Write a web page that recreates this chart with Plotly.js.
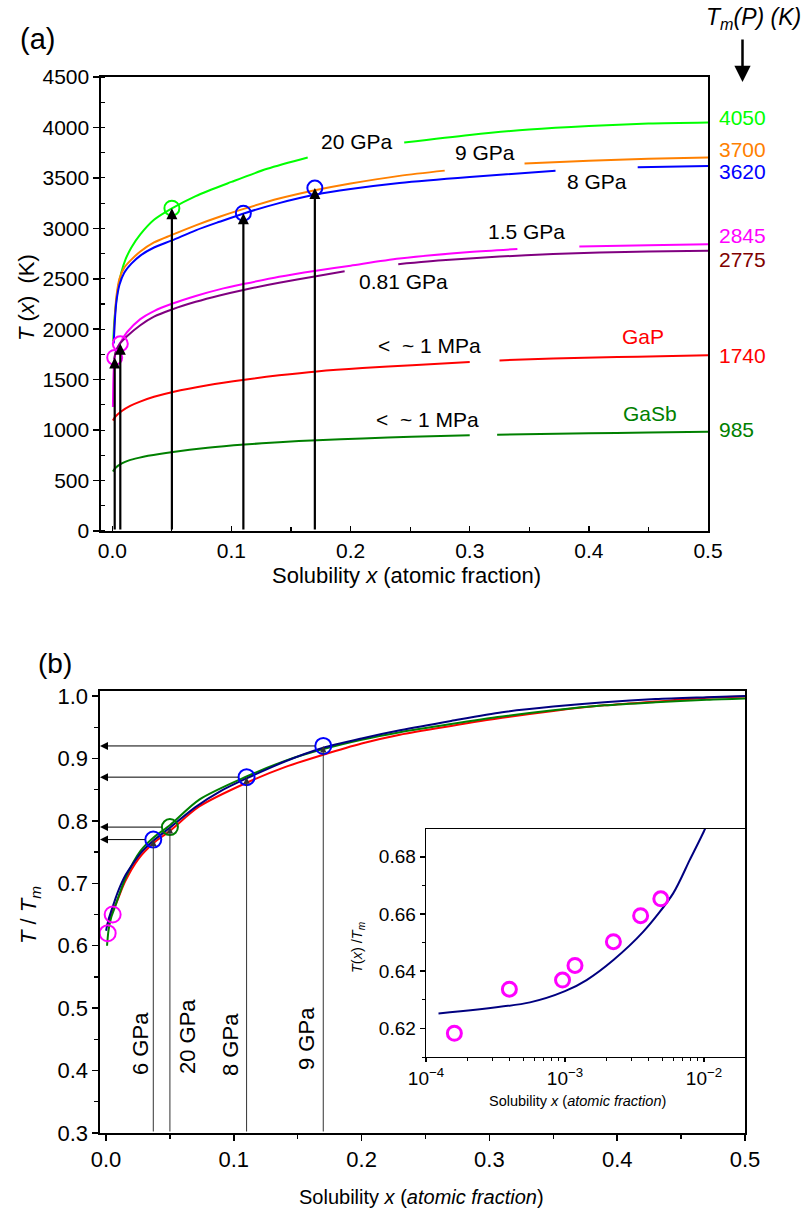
<!DOCTYPE html>
<html><head><meta charset="utf-8">
<script src="https://cdn.plot.ly/plotly-3.0.1.min.js"></script>
<style>html,body{margin:0;padding:0;background:#fff}#chart{width:806px;height:1214px}</style>
</head><body><div id="chart"></div>
<script>
// ================= DATA =================
// Panel (a): T(x) in K vs solubility x (null = break in the drawn line)
const x20GPa = [0.0008, 0.0015, 0.003, 0.005, 0.0075, 0.011, 0.016, 0.0235, 0.035, 0.05, 0.07, 0.1, 0.13, 0.164, null, 0.245, 0.3, 0.35, 0.4, 0.45, 0.5];
const T20GPa = [1880, 2050, 2250, 2420, 2560, 2690, 2810, 2940, 3085, 3198, 3320, 3460, 3590, 3702, null, 3850, 3925, 3980, 4015, 4038, 4048];
const x9GPa = [0.0012, 0.002, 0.0035, 0.006, 0.01, 0.016, 0.0235, 0.035, 0.05, 0.07, 0.09, 0.111, 0.14, 0.171, 0.2, 0.241, 0.279, null, 0.346, 0.4, 0.45, 0.5];
const T9GPa = [1880, 2100, 2330, 2500, 2610, 2690, 2770, 2860, 2935, 3030, 3115, 3195, 3295, 3380, 3445, 3520, 3572, null, 3643, 3670, 3690, 3702];
const x8GPa = [0.0012, 0.002, 0.0035, 0.006, 0.01, 0.016, 0.0235, 0.035, 0.05, 0.07, 0.09, 0.111, 0.14, 0.171, 0.2, 0.241, 0.3, 0.372, null, 0.441, 0.5];
const T8GPa = [1860, 2060, 2280, 2440, 2560, 2650, 2730, 2810, 2880, 2980, 3065, 3150, 3250, 3335, 3390, 3450, 3510, 3570, null, 3605, 3618];
const x15GPa = [0.0005, 0.0008, 0.0012, 0.002, 0.004, 0.0067, 0.0123, 0.0235, 0.035, 0.05, 0.07, 0.09, 0.111, 0.14, 0.171, 0.2, 0.241, 0.3, 0.34, null, 0.392, 0.45, 0.5];
const T15GPa = [1230, 1450, 1600, 1720, 1810, 1865, 1970, 2100, 2180, 2252, 2330, 2395, 2450, 2520, 2580, 2630, 2700, 2765, 2795, null, 2820, 2833, 2842];
const x081GPa = [0.0015, 0.003, 0.006, 0.0123, 0.0235, 0.035, 0.05, 0.07, 0.09, 0.111, 0.14, 0.171, 0.195, null, 0.24, 0.28, 0.325, 0.37, 0.409, 0.45, 0.5];
const T081GPa = [1700, 1780, 1850, 1930, 2040, 2125, 2196, 2272, 2335, 2392, 2460, 2525, 2575, null, 2645, 2685, 2720, 2745, 2760, 2770, 2777];
const xGaP = [0.0005, 0.003, 0.008, 0.015, 0.0228, 0.035, 0.0508, 0.08, 0.111, 0.14, 0.1717, 0.21, 0.2516, 0.3, null, 0.325, 0.37, 0.424, 0.46, 0.5];
const TGaP = [1095, 1140, 1190, 1240, 1280, 1330, 1378, 1445, 1500, 1543, 1582, 1615, 1642, 1675, null, 1691, 1710, 1724, 1733, 1741];
const xGaSb = [0.0005, 0.003, 0.008, 0.014, 0.022, 0.03, 0.051, 0.08, 0.111, 0.14, 0.172, 0.21, 0.251, 0.3, null, 0.323, 0.4, 0.45, 0.5];
const TGaSb = [590, 630, 670, 700, 725, 745, 784, 825, 857, 880, 900, 918, 933, 948, null, 954, 968, 976, 983];
// circles in panel (a)
const circA_x = [0.002, 0.0067, 0.05, 0.11, 0.17];
const circA_T = [1720, 1856, 3200, 3150, 3400];
// melting temperatures at right of panel (a)
const tmValues = [4050, 3700, 3620, 2845, 2775, 1740, 985];
const tmLabels = ['4050', '3700', '3620', '2845', '2775', '1740', '985'];
// pressure labels in panel (a)
const pressureLabels = ['20 GPa', '9 GPa', '8 GPa', '1.5 GPa', '0.81 GPa', '&lt;&nbsp; ~ 1 MPa', 'GaP', '&lt;&nbsp; ~ 1 MPa', 'GaSb'];

// Panel (b): T/Tm vs x
const xNavy = [0.0001, 0.0005, 0.001, 0.002, 0.004, 0.006, 0.008, 0.01, 0.015, 0.02, 0.027, 0.037, 0.05, 0.07, 0.09, 0.11, 0.14, 0.17, 0.2, 0.23, 0.27, 0.31, 0.35, 0.39, 0.43, 0.47, 0.5];
const yNavy = [0.624, 0.629, 0.633, 0.642, 0.655, 0.667, 0.679, 0.69, 0.712, 0.728, 0.748, 0.768, 0.789, 0.822, 0.848, 0.868, 0.895, 0.917, 0.932, 0.945, 0.96, 0.974, 0.983, 0.990, 0.995, 0.998, 1.0];
const xGreenB = [0.0008, 0.002, 0.004, 0.007, 0.01, 0.016, 0.027, 0.037, 0.05, 0.073, 0.11, 0.14, 0.17, 0.2, 0.23, 0.27, 0.31, 0.35, 0.39, 0.43, 0.47, 0.5];
const yGreenB = [0.60, 0.625, 0.645, 0.662, 0.68, 0.712, 0.752, 0.773, 0.793, 0.834, 0.871, 0.896, 0.915, 0.930, 0.942, 0.955, 0.967, 0.977, 0.985, 0.990, 0.994, 0.996];
const xRedB = [0.0005, 0.003, 0.008, 0.015, 0.025, 0.037, 0.05, 0.073, 0.11, 0.14, 0.17, 0.2, 0.23, 0.27, 0.31, 0.35, 0.39, 0.43, 0.47, 0.5];
const yRedB = [0.63, 0.645, 0.668, 0.703, 0.738, 0.764, 0.784, 0.823, 0.861, 0.886, 0.906, 0.924, 0.938, 0.952, 0.965, 0.976, 0.985, 0.991, 0.997, 0.999];
const circB_x = [0.0013, 0.0052, 0.037, 0.05, 0.11, 0.17];
const circB_y = [0.62, 0.65, 0.77, 0.79, 0.87, 0.92];
const pressureB = ['6 GPa', '20 GPa', '8 GPa', '9 GPa'];

// Inset
const xInsetLine = [1.23e-4, 5.6e-4, 1e-3, 1.43e-3, 2.23e-3, 3.66e-3, 6e-3, 7.9e-3, 1.016e-2, 1.1e-2];
const yInsetLine = [0.6252, 0.6291, 0.6330, 0.6369, 0.6439, 0.6538, 0.6672, 0.6789, 0.6897, 0.694];
const xInsetPts = [1.6e-4, 3.98e-4, 9.6e-4, 1.18e-3, 2.23e-3, 3.5e-3, 4.89e-3];
const yInsetPts = [0.6183, 0.6337, 0.6369, 0.6420, 0.6503, 0.6594, 0.6653];
const insetTickVals = [1e-4, 1e-3, 1e-2];
const insetTickText = ['10<sup>\u22124</sup>', '10<sup>\u22123</sup>', '10<sup>\u22122</sup>'];

// ================= LAYOUT HELPERS =================
const W = 806, H = 1214;
const PX = v => v / W, PY = v => 1 - v / H;
const FONT = 'Liberation Sans, Arial, Helvetica, sans-serif';

function curve(x, y, color, xa, ya, width) {
  return {x, y, type: 'scatter', mode: 'lines', connectgaps: false, xaxis: xa, yaxis: ya,
    line: {color, width: width || 2, shape: 'spline', smoothing: 0.8}, hoverinfo: 'skip', showlegend: false};
}
function circles(x, y, colors, xa, ya, size, lw) {
  return {x, y, type: 'scatter', mode: 'markers', xaxis: xa, yaxis: ya, showlegend: false, hoverinfo: 'skip',
    marker: {symbol: 'circle-open', size, color: colors, line: {width: lw, color: colors}}};
}

const traces = [
  curve(x20GPa, T20GPa, '#00ff00', 'x', 'y'),
  curve(x9GPa, T9GPa, '#ff8000', 'x', 'y'),
  curve(x8GPa, T8GPa, '#0000ff', 'x', 'y'),
  curve(x15GPa, T15GPa, '#ff00ff', 'x', 'y'),
  curve(x081GPa, T081GPa, '#800080', 'x', 'y'),
  curve(xGaP, TGaP, '#ff0000', 'x', 'y'),
  curve(xGaSb, TGaSb, '#008000', 'x', 'y'),
  circles(circA_x, circA_T, ['#ff00ff', '#ff00ff', '#00ff00', '#0000ff', '#0000ff'], 'x', 'y', 15, 2),
  curve(xRedB, yRedB, '#ff0000', 'x2', 'y2'),
  curve(xGreenB, yGreenB, '#008000', 'x2', 'y2'),
  curve(xNavy, yNavy, '#000080', 'x2', 'y2'),
  circles(circB_x, circB_y, ['#ff00ff', '#ff00ff', '#0000ff', '#008000', '#0000ff', '#0000ff'], 'x2', 'y2', 16, 2),
  curve(xInsetLine, yInsetLine, '#000080', 'x3', 'y3'),
  circles(xInsetPts, yInsetPts, '#ff00ff', 'x3', 'y3', 14, 3)
];

const annotations = [];
function txt(xp, yp, text, size, opts) {
  annotations.push(Object.assign({x: PX(xp), y: PY(yp), xref: 'paper', yref: 'paper', text, showarrow: false,
    font: {size, family: FONT, color: '#000'}, xanchor: 'center', yanchor: 'middle'}, opts || {}));
}

// Panel labels / axis titles
txt(37, 39, '(a)', 29);
txt(55, 663, '(b)', 28);
txt(753, 19, '<i>T</i><sub><i>m</i></sub><i>(P) (K)</i>', 23);
annotations.push({x: PX(742.5), y: PY(82), xref: 'paper', yref: 'paper', text: '', showarrow: true,
  ax: 0, ay: -44, arrowhead: 2, arrowsize: 1.3, arrowwidth: 2.5, arrowcolor: '#000'});
txt(406, 575, 'Solubility <i>x</i> (atomic fraction)', 22);
txt(26, 298, '<i>T</i>&nbsp;(<i>x</i>)&nbsp;&nbsp;(K)', 22, {textangle: -90});
txt(421, 1197, 'Solubility <i>x</i> (<i>atomic fraction</i>)', 20);
txt(30, 915, '<i>T</i> / <i>T</i><sub><i>m</i></sub>', 22, {textangle: -90});
txt(577, 1101, 'Solubility <i>x</i> (<i>atomic fraction</i>)', 14.5);
txt(358, 948, '<i>T</i>(<i>x</i>) /<i>T</i><sub><i>m</i></sub>', 14.5, {textangle: -90});

// Pressure labels on panel (a) (data coordinates)
const pLabelPos = [[0.205, 3859], [0.313, 3750], [0.4066, 3469], [0.3476, 2967], [0.2446, 2471], [0.266, 1834], [0.4456, 1926], [0.2647, 1107], [0.4514, 1167]];
const pLabelCol = ['#000', '#000', '#000', '#000', '#000', '#000', '#ff0000', '#000', '#008000'];
pressureLabels.forEach((t, i) => annotations.push({x: pLabelPos[i][0], y: pLabelPos[i][1], xref: 'x', yref: 'y', text: t,
  showarrow: false, font: {size: 21, family: FONT, color: pLabelCol[i]}}));

// Tm labels at the right
const tmColors = ['#00ff00', '#ff8000', '#0000ff', '#ff00ff', '#800000', '#ff0000', '#008000'];
const tmShift = [5, 8, -6, 8, -8, 0, 2];
tmValues.forEach((v, i) => annotations.push({x: PX(717), xref: 'paper', y: v, yref: 'y', yshift: tmShift[i],
  text: tmLabels[i], showarrow: false, xanchor: 'left', yanchor: 'middle', font: {size: 21, family: FONT, color: tmColors[i]}}));

// Thick black arrows in panel (a)
circA_x.forEach((xv, i) => annotations.push({x: xv, y: circA_T[i], xref: 'x', yref: 'y', ax: xv, ay: 0, axref: 'x', ayref: 'y',
  text: '', showarrow: true, arrowhead: 2, arrowsize: 1, arrowwidth: 2.2, arrowcolor: '#000'}));

// Arrows in panel (b)
for (let i = 2; i < circB_x.length; i++) {
  annotations.push({x: circB_x[i], y: circB_y[i], xref: 'x2', yref: 'y2', ax: circB_x[i], ay: 0.3, axref: 'x2', ayref: 'y2',
    text: '', showarrow: true, arrowhead: 2, arrowsize: 1.3, arrowwidth: 1, arrowcolor: '#333'});
  annotations.push({x: -0.0047, y: circB_y[i], xref: 'x2', yref: 'y2', ax: circB_x[i], ay: circB_y[i], axref: 'x2', ayref: 'y2',
    text: '', showarrow: true, arrowhead: 2, arrowsize: 1.6, arrowwidth: 1, arrowcolor: '#000', startstandoff: 7});
}
const pBpos = [[140, 1044], [187, 1037], [230, 1044], [306, 1039]];
pressureB.forEach((t, i) => txt(pBpos[i][0], pBpos[i][1], t, 22, {textangle: -90}));

// Axes
const axBase = {showline: true, linecolor: '#000', linewidth: 1.6, mirror: true, showgrid: false, zeroline: false,
  ticks: 'outside', tickcolor: '#000', tickwidth: 1.5, ticklen: 6, tickfont: {size: 21, family: FONT, color: '#000'}};
const minorTicks = [];
for (let d = -4; d <= -2; d++) for (let k = 2; k <= 9; k++) minorTicks.push(k * Math.pow(10, d));

const layout = {
  width: W, height: H, margin: {l: 0, r: 0, t: 0, b: 0}, paper_bgcolor: '#fff', plot_bgcolor: 'rgba(0,0,0,0)',
  font: {family: FONT, color: '#000'}, showlegend: false,
  xaxis: Object.assign({}, axBase, {domain: [PX(101), PX(708)], range: [-0.0095, 0.5], anchor: 'y', dtick: 0.1, tick0: 0, tickformat: '.1f',
    ticks: 'inside', ticklen: 5,
    minor: {ticks: 'inside', dtick: 0.05, tick0: 0, ticklen: 4, tickwidth: 1.2, tickcolor: '#000'}}),
  yaxis: Object.assign({}, axBase, {domain: [PY(531), PY(77)], range: [0, 4500], anchor: 'x', dtick: 500, tick0: 0,
    minor: {ticks: 'inside', dtick: 250, tick0: 0, ticklen: 4, tickwidth: 1.2, tickcolor: '#000'}}),
  xaxis2: Object.assign({}, axBase, {domain: [PX(100), PX(745)], range: [-0.0047, 0.5], anchor: 'y2', dtick: 0.1, tick0: 0, tickformat: '.1f',
    tickfont: {size: 22, family: FONT, color: '#000'},
    minor: {ticks: 'outside', dtick: 0.05, tick0: 0, ticklen: 4, tickwidth: 1.2, tickcolor: '#000'}}),
  yaxis2: Object.assign({}, axBase, {domain: [PY(1133), PY(691)], range: [0.3, 1.008], anchor: 'x2', dtick: 0.1, tick0: 0, tickformat: '.1f',
    tickfont: {size: 22, family: FONT, color: '#000'},
    minor: {ticks: 'outside', dtick: 0.05, tick0: 0, ticklen: 4, tickwidth: 1.2, tickcolor: '#000'}}),
  xaxis3: Object.assign({}, axBase, {domain: [PX(426), PX(745)], type: 'log', range: [-4, -1.705], anchor: 'y3',
    tickmode: 'array', tickvals: insetTickVals, ticktext: insetTickText, ticklen: 4, linewidth: 1.4,
    tickfont: {size: 19, family: FONT, color: '#000'},
    minor: {ticks: 'outside', tickmode: 'array', tickvals: minorTicks, ticklen: 3, tickwidth: 1, tickcolor: '#000'}}),
  yaxis3: Object.assign({}, axBase, {domain: [PY(1057), PY(829)], range: [0.61, 0.6897], anchor: 'x3', dtick: 0.02, tick0: 0.62,
    tickformat: '.2f', ticklen: 5, linewidth: 1.4, tickfont: {size: 19, family: FONT, color: '#000'},
    minor: {ticks: 'outside', dtick: 0.01, tick0: 0.62, ticklen: 3, tickwidth: 1, tickcolor: '#000'}}),
  annotations
};

Plotly.newPlot('chart', traces, layout, {displayModeBar: false, staticPlot: true});
</script>
</body></html>
